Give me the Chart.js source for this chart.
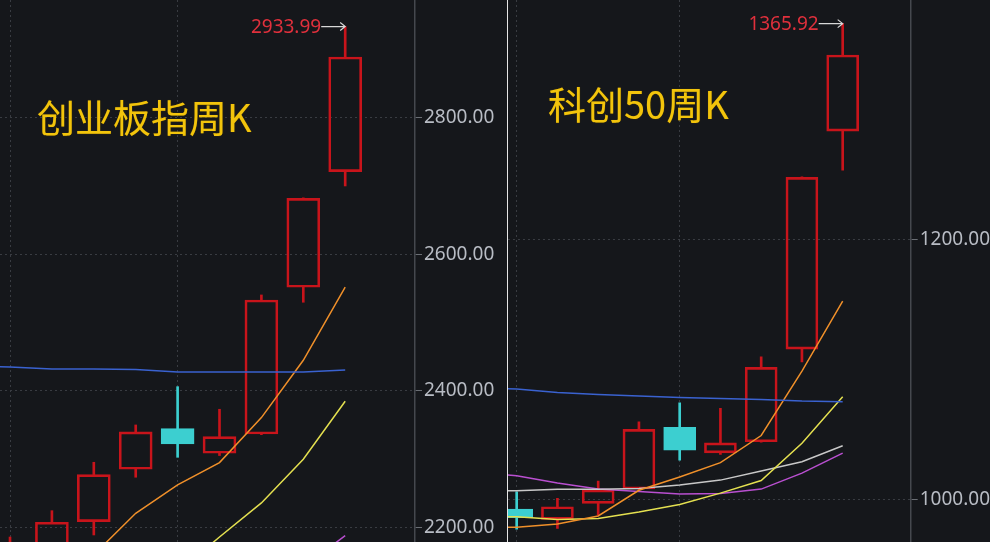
<!DOCTYPE html>
<html>
<head>
<meta charset="utf-8">
<script src="https://cdn.jsdelivr.net/npm/chart.js@4.4.0/dist/chart.umd.min.js"></script>
<style>
  body { margin: 0; background: #15171b; width: 990px; height: 542px; overflow: hidden; position: relative; }
  .box { position: absolute; top: 0; height: 542px; }
  #boxL { left: 0; width: 507px; }
  #boxR { left: 508px; width: 482px; }
  #sep { position: absolute; left: 507px; top: 0; width: 1px; height: 542px; background: #e6e6e6; }
  .title { position: absolute; font-family: "Noto Sans CJK SC"; font-size: 38px; line-height: 38px;
           color: #f2c40c; text-shadow: 0 0 1px #6a5200; white-space: nowrap; }
</style>
</head>
<body>
<div class="box" id="boxL"><canvas id="chartL"></canvas></div>
<div id="sep"></div>
<div class="box" id="boxR"><canvas id="chartR"></canvas></div>
<div class="title" style="left:37px;top:97px">创业板指周K</div>
<div class="title" style="left:548px;top:84px">科创50周K</div>
<script>
// 创业板指 周K (9 根周线)
const cybWeeks = ['W1', 'W2', 'W3', 'W4', 'W5', 'W6', 'W7', 'W8', 'W9'];
const cybOpen  = [2140, 2172, 2208.5, 2285.3, 2344.8, 2308.8, 2337, 2552, 2721.3];
const cybClose = [2175, 2207.6, 2277.4, 2340, 2322.3, 2333.2, 2533.3, 2682.3, 2889.4];
const cybHigh  = [2186, 2224.6, 2295.5, 2350.2, 2406.3, 2373.2, 2540.7, 2683, 2933.99];
const cybLow   = [2120, 2160, 2189, 2273.6, 2302.8, 2305.4, 2336, 2530, 2700.4];
// 均线 (从前一周开始, 索引 -1 .. 8)
const cybMaBlue   = [2437, 2435.2, 2432.3, 2432.3, 2431.3, 2427.9, 2427.9, 2427.9, 2427.9, 2430.8];
const cybMaOrange = [2040, 2070, 2110, 2160, 2220.8, 2262.3, 2295, 2361, 2445, 2552];
const cybMaYellow = [2015, 2035, 2055, 2075, 2100, 2134, 2186, 2236, 2300, 2385];
const cybMaPurple = [2060, 2070, 2080, 2090, 2100, 2110, 2120, 2130, 2142, 2188];
const cybTicks = [2200, 2400, 2600, 2800];

// 科创50 周K
const kcWeeks = ['W1', 'W2', 'W3', 'W4', 'W5', 'W6', 'W7', 'W8', 'W9'];
const kcOpen  = [992.5, 984.6, 996.9, 1008, 1055.4, 1035.8, 1044.3, 1115.6, 1283.3];
const kcClose = [986, 994.3, 1007.2, 1053.8, 1037.9, 1043.5, 1101.5, 1247.7, 1341.8];
const kcHigh  = [1005.8, 1000.8, 1014.1, 1059.7, 1074.3, 1070, 1109.7, 1248, 1365.92];
const kcLow   = [977, 977.7, 987.9, 1007, 1030.2, 1034.6, 1044, 1105.8, 1253.3];
const kcMaBlue   = [1086.5, 1084.8, 1082.2, 1080.6, 1079.5, 1078.3, 1077.5, 1076.8, 1075.6, 1075.1];
const kcMaOrange = [978.5, 978.5, 981, 987.2, 1007, 1017.2, 1028.2, 1049.1, 1098.7, 1152.5];
const kcMaYellow = [986.8, 986.6, 984.5, 985.2, 990.2, 996, 1004.8, 1014.5, 1043.1, 1078.9];
const kcMaWhite  = [1006.6, 1006.6, 1007.7, 1007.7, 1008.3, 1011, 1014.8, 1021.8, 1028.9, 1041.2];
const kcMaPurple = [1021, 1018.2, 1012.5, 1007.9, 1006, 1004.1, 1004.5, 1007.9, 1020.2, 1035.6];
const kcTicks = [1000, 1200];

const RED = '#c8141b';
const CYAN = '#3ccfd0';

// 最高价标注: 红色数字 + 灰色箭头
const maxLabel = {
    id: 'maxLabel',
    afterDatasetsDraw(chart, args, opts) {
        const highs = opts.highs;
        let idx = 0;
        highs.forEach((h, i) => { if (h > highs[idx]) idx = i; });
        const px = chart.scales.x.getPixelForValue(idx);
        const py = chart.scales.y.getPixelForValue(highs[idx]);
        const ctx = chart.ctx;
        ctx.save();
        ctx.font = '19px "Noto Sans"';
        ctx.fillStyle = '#e0303c';
        ctx.textAlign = 'right';
        ctx.textBaseline = 'middle';
        ctx.fillText(highs[idx].toFixed(2), px - 24, py + 1);
        ctx.strokeStyle = '#d8d8d8';
        ctx.lineWidth = 1.2;
        ctx.beginPath();
        ctx.moveTo(px - 24, py);
        ctx.lineTo(px, py);
        ctx.moveTo(px - 5, py - 4);
        ctx.lineTo(px, py);
        ctx.lineTo(px - 5, py + 4);
        ctx.stroke();
        ctx.restore();
    }
};

function lineSet(values, color) {
    return {
        type: 'line',
        data: values.map((v, i) => ({ x: i - 1, y: v })),
        borderColor: color,
        borderWidth: 1.5,
        pointRadius: 0,
        tension: 0,
        order: 1
    };
}

function createKChart(canvasId, o, c, h, l, lines, ticks, yMin, yMax, xMin, xMax, bodyW, axisW) {
    const up = o.map((v, i) => c[i] >= v);
    const col = up.map(u => u ? RED : CYAN);
    const datasets = [
        ...lines,
        {
            type: 'bar',
            data: o.map((v, i) => ({ x: i, y: [v, c[i]] })),
            backgroundColor: up.map(u => u ? 'rgba(0,0,0,0)' : CYAN),
            borderColor: col,
            borderWidth: 2,
            borderSkipped: false,
            barThickness: bodyW,
            grouped: false,
            order: 2
        },
        {
            type: 'bar',
            data: o.map((v, i) => ({ x: i, y: [Math.max(v, c[i]), h[i]] })),
            backgroundColor: col,
            borderWidth: 0,
            barThickness: 2,
            grouped: false,
            order: 3
        },
        {
            type: 'bar',
            data: o.map((v, i) => ({ x: i, y: [l[i], Math.min(v, c[i])] })),
            backgroundColor: col,
            borderWidth: 0,
            barThickness: 2,
            grouped: false,
            order: 3
        }
    ];
    new Chart(document.getElementById(canvasId), {
        data: { datasets: datasets },
        plugins: [maxLabel],
        options: {
            responsive: true,
            maintainAspectRatio: false,
            animation: false,
            layout: { padding: 0 },
            plugins: {
                legend: { display: false },
                tooltip: { enabled: false },
                maxLabel: { highs: h }
            },
            scales: {
                x: {
                    type: 'linear',
                    offset: false,
                    min: xMin,
                    max: xMax,
                    afterBuildTicks: s => { s.ticks = [{ value: 0 }, { value: 4 }]; },
                    afterFit: s => { s.height = 0; s.paddingLeft = 0; s.paddingRight = 0; },
                    ticks: { display: false },
                    grid: { color: '#393c42', drawTicks: false, lineWidth: 1, offset: false },
                    border: { display: false, dash: [2, 3] }
                },
                y: {
                    position: 'right',
                    min: yMin,
                    max: yMax,
                    afterBuildTicks: s => { s.ticks = ticks.map(v => ({ value: v })); },
                    afterFit: s => { s.width = axisW; s.paddingTop = 0; s.paddingBottom = 0; },
                    ticks: {
                        color: '#b8bcc4',
                        font: { family: 'Noto Sans', size: 19 },
                        padding: 2,
                        callback: v => Number(v).toFixed(2)
                    },
                    grid: { color: '#393c42', tickColor: '#6a6e74', tickLength: 7, lineWidth: 1 },
                    border: { display: true, color: '#45484e', width: 1.5, dash: [2, 3] }
                }
            }
        }
    });
}

createKChart('chartL', cybOpen, cybClose, cybHigh, cybLow, [
    lineSet(cybMaBlue, '#3a62d0'),
    lineSet(cybMaOrange, '#f0902a'),
    lineSet(cybMaYellow, '#e4e050'),
    lineSet(cybMaPurple, '#b94fd0')
], cybTicks, 2178.7, 2972.9, -0.239, 9.666, 33, 92);

createKChart('chartR', kcOpen, kcClose, kcHigh, kcLow, [
    lineSet(kcMaBlue, '#3a62d0'),
    lineSet(kcMaOrange, '#f0902a'),
    lineSet(kcMaYellow, '#e4e050'),
    lineSet(kcMaWhite, '#c8c8c8'),
    lineSet(kcMaPurple, '#b94fd0')
], kcTicks, 967.2, 1384.1, -0.213, 9.669, 32, 79.3);
</script>
</body>
</html>
